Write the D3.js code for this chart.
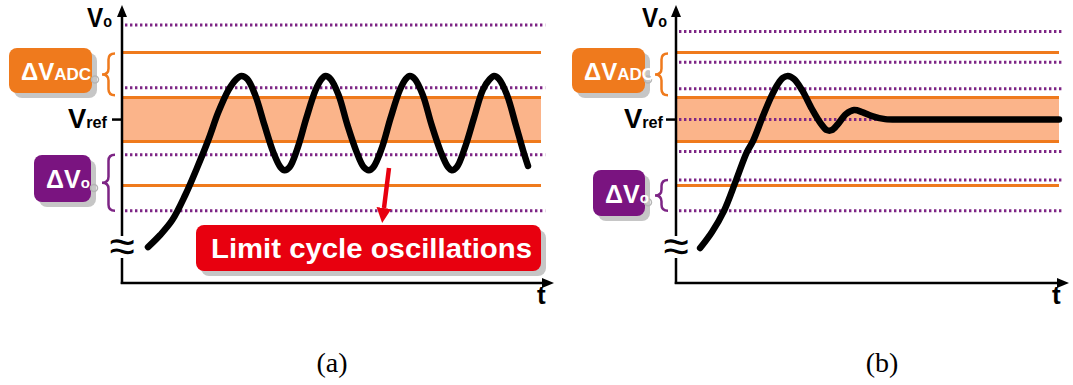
<!DOCTYPE html>
<html>
<head>
<meta charset="utf-8">
<script src="https://cdn.jsdelivr.net/npm/d3@7"></script>
<style>
  html, body { margin: 0; padding: 0; background: #fff; }
  svg { display: block; }
  text { font-family: "Liberation Sans", Arial, sans-serif; }
  text.caption { font-family: "Liberation Serif", "Times New Roman", serif; }
</style>
</head>
<body>
<div id="chart"></div>
<script>
const WIDTH = 1073;
const HEIGHT = 385;

// voltage in units of half an ADC bin, Vref = 0
const adcEdges = [3.05, 1, -1, -3];
const adcZeroBin = [-1, 1];
// DPWM output levels (coarse in a, fine in b)
const dpwmLevelsA = [4.3, 1.45, -1.6, -4.15];
const dpwmLevelsB = [4.0, 2.6, 1.4, 0, -1.45, -2.75, -4.15];

// output voltage [t (% of span), v]
const outputA = [
  [6.2, -5.8], [9.1, -5.25], [12.0, -4.57], [15.1, -3.43], [17.9, -2.2], [20.6, -0.93],
  [23.0, 0.34], [25.4, 1.34], [27.3, 1.84], [28.5, 1.98], [29.9, 1.84], [31.8, 1.11],
  [34.0, -0.25], [36.1, -1.48], [37.8, -2.16], [38.8, -2.3], [40.0, -2.16], [41.9, -1.3],
  [44.0, 0.07], [46.2, 1.34], [47.6, 1.84], [48.6, 1.98], [49.8, 1.84], [51.7, 1.11],
  [53.8, -0.25], [56.0, -1.48], [57.7, -2.16], [58.9, -2.3], [60.0, -2.16], [62.0, -1.3],
  [64.1, 0.07], [66.3, 1.34], [67.7, 1.84], [68.7, 1.98], [69.9, 1.84], [71.8, 1.11],
  [73.9, -0.25], [76.1, -1.48], [77.8, -2.16], [78.7, -2.3], [79.9, -2.16], [81.8, -1.3],
  [84.0, 0.07], [86.1, 1.34], [87.8, 1.84], [88.8, 1.98], [90.0, 1.84], [91.9, 1.11],
  [94.0, -0.25], [95.7, -1.39], [96.9, -2.11]
];
const outputB = [
  [6.3, -5.84], [9.4, -5.11], [12.5, -4.16], [15.7, -2.75], [18.5, -1.48], [20.1, -0.98],
  [22.5, 0.07], [24.8, 1.02], [26.6, 1.61], [27.9, 1.89], [29.2, 1.98], [30.8, 1.84],
  [32.9, 1.34], [35.5, 0.48], [37.9, -0.2], [39.4, -0.48], [40.7, -0.48], [42.3, -0.2],
  [44.4, 0.25], [46.5, 0.43], [48.6, 0.34], [51.2, 0.16], [54.6, 0.02], [59.8, 0],
  [74.2, 0], [100, 0]
];

const panelLabels = ['(a)', '(b)'];
const noteText = 'Limit cycle oscillations';

const ORANGE = '#ef7a1d';
const BAND = '#fbb48a';
const PURPLE = '#7d2585';
const BOX_PURPLE = '#7a1480';
const RED = '#e8000f';

const panels = [
  {
    x0: 122, x1: 541, axisEnd: 554, dotEnd: 101, dpwm: dpwmLevelsA, data: outputA,
    adcBox: { x: 9, y: 48, w: 83, h: 45 }, voBox: { x: 34, y: 155, w: 57, h: 47 },
    braceX: 102, voBrace: [-1.6, -4.15], voLabelX: 87, vrefX: 68, captionX: 332,
    note: { x: 196, y: 225, w: 345, h: 46, from: [389, 168], to: [384, 208] }
  },
  {
    x0: 676, x1: 1059, axisEnd: 1069, dotEnd: 100.8, dpwm: dpwmLevelsB, data: outputB,
    adcBox: { x: 572, y: 48, w: 73, h: 45 }, voBox: { x: 593, y: 170, w: 52, h: 46 },
    braceX: 655, voBrace: [-2.75, -4.15], voLabelX: 642, vrefX: 624, captionX: 882
  }
];

const svg = d3.select('#chart').append('svg')
  .attr('width', WIDTH)
  .attr('height', HEIGHT)
  .attr('viewBox', `0 0 ${WIDTH} ${HEIGHT}`);

svg.append('rect').attr('width', WIDTH).attr('height', HEIGHT).attr('fill', '#fff');

const defs = svg.append('defs');
const addMarker = (id, color, len, wid) => {
  defs.append('marker')
    .attr('id', id)
    .attr('markerUnits', 'userSpaceOnUse')
    .attr('markerWidth', len).attr('markerHeight', wid)
    .attr('viewBox', `0 0 ${len} ${wid}`)
    .attr('refX', 0).attr('refY', wid / 2)
    .attr('orient', 'auto')
    .append('path')
    .attr('d', `M0,0 L${len},${wid / 2} L0,${wid} Z`)
    .attr('fill', color);
};
addMarker('arrowBlack', '#000', 12, 10);
addMarker('arrowRed', RED, 15, 15);

const y = d3.scaleLinear().domain([-7.43, 4.89]).range([283, 12]);

const brace = (x, y1, y2, w) => {
  const m = (y1 + y2) / 2, xm = x + w * 0.5, r = Math.min(6, (y2 - y1) / 4);
  return `M${x + w},${y1} Q${xm},${y1} ${xm},${y1 + r} L${xm},${m - r} Q${xm},${m} ${x},${m}` +
    ` Q${xm},${m} ${xm},${m + r} L${xm},${y2 - r} Q${xm},${y2} ${x + w},${y2}`;
};

const labelBox = (g, b, color, main, sub, mainSize, subSize) => {
  g.append('rect').attr('x', b.x + 5).attr('y', b.y + 5).attr('width', b.w).attr('height', b.h)
    .attr('rx', 8).attr('fill', '#c6c6c6');
  g.append('rect').attr('x', b.x).attr('y', b.y).attr('width', b.w).attr('height', b.h)
    .attr('rx', 8).attr('fill', color);
  g.append('circle').attr('cx', b.x + b.w + 3).attr('cy', b.y + b.h * 0.7).attr('r', 3.5)
    .attr('fill', 'none').attr('stroke', '#b5b5b5').attr('stroke-width', 1.5);
  const t = g.append('text')
    .attr('x', b.x + 12)
    .attr('y', b.y + b.h / 2 + mainSize * 0.38)
    .attr('fill', '#fff').attr('font-weight', 'bold').attr('font-size', mainSize);
  t.append('tspan').text(main);
  t.append('tspan').attr('font-size', subSize).text(sub);
};

const vLabel = (g, x, yBase, sub, len) => {
  const t = g.append('text')
    .attr('x', x).attr('y', yBase)
    .attr('font-size', 27).attr('font-weight', 'bold').attr('fill', '#000')
    .attr('textLength', len).attr('lengthAdjust', 'spacingAndGlyphs');
  t.append('tspan').text('V');
  t.append('tspan').attr('font-size', 16).text(sub);
};

panels.forEach((p, i) => {
  const x = d3.scaleLinear().domain([0, 100]).range([p.x0, p.x1]);
  const g = svg.append('g');

  // ADC zero-error bin
  g.append('rect')
    .attr('x', x(0)).attr('width', x(100) - x(0))
    .attr('y', y(adcZeroBin[1])).attr('height', y(adcZeroBin[0]) - y(adcZeroBin[1]))
    .attr('fill', BAND);

  g.selectAll('line.adc').data(adcEdges).join('line')
    .attr('class', 'adc')
    .attr('x1', x(0)).attr('x2', x(100))
    .attr('y1', d => y(d)).attr('y2', d => y(d))
    .attr('stroke', ORANGE).attr('stroke-width', 3);

  g.selectAll('line.dpwm').data(p.dpwm).join('line')
    .attr('class', 'dpwm')
    .attr('x1', x(0) + 3).attr('x2', x(p.dotEnd))
    .attr('y1', d => y(d)).attr('y2', d => y(d))
    .attr('stroke', PURPLE).attr('stroke-width', 3)
    .attr('stroke-dasharray', '2.4,2.6');

  g.append('path')
    .datum(p.data)
    .attr('d', d3.line().x(d => x(d[0])).y(d => y(d[1])).curve(d3.curveCatmullRom.alpha(0.5)))
    .attr('fill', 'none').attr('stroke', '#000').attr('stroke-width', 6.5)
    .attr('stroke-linecap', 'round').attr('stroke-linejoin', 'round');

  // axes
  g.append('line')
    .attr('x1', p.x0).attr('x2', p.x0).attr('y1', 284).attr('y2', 17)
    .attr('stroke', '#000').attr('stroke-width', 2.5).attr('marker-end', 'url(#arrowBlack)');
  g.append('line')
    .attr('x1', p.x0 - 1.25).attr('x2', p.axisEnd - 12).attr('y1', 283).attr('y2', 283)
    .attr('stroke', '#000').attr('stroke-width', 2.5).attr('marker-end', 'url(#arrowBlack)');

  // axis break
  g.append('rect').attr('x', p.x0 - 5).attr('y', 236).attr('width', 10).attr('height', 22).attr('fill', '#fff');
  g.append('text')
    .attr('x', p.x0).attr('y', 262)
    .attr('text-anchor', 'middle').attr('font-size', 46).attr('fill', '#000')
    .text('\u2248');

  // Vref tick and labels
  g.append('line')
    .attr('x1', p.x0 - 10).attr('x2', p.x0).attr('y1', y(0)).attr('y2', y(0))
    .attr('stroke', '#000').attr('stroke-width', 2.5);
  vLabel(g, p.voLabelX, 27, 'o', 25);
  vLabel(g, p.vrefX, 128, 'ref', 39);

  g.append('text')
    .attr('x', p.axisEnd - 17).attr('y', 304)
    .attr('font-size', 26).attr('font-weight', 'bold').attr('fill', '#000')
    .text('t');

  // boxes and braces
  labelBox(g, p.adcBox, ORANGE, '\u0394V', 'ADC', 24, 17);
  labelBox(g, p.voBox, BOX_PURPLE, '\u0394V', 'o', 25, 15);

  g.append('path')
    .attr('d', brace(p.braceX, y(3.0), y(1.1), 13))
    .attr('fill', 'none').attr('stroke', ORANGE).attr('stroke-width', 2.5);
  g.append('path')
    .attr('d', brace(p.braceX, y(p.voBrace[0]), y(p.voBrace[1]), 13))
    .attr('fill', 'none').attr('stroke', PURPLE).attr('stroke-width', 2.5);

  if (p.note) {
    const n = p.note;
    g.append('line')
      .attr('x1', n.from[0]).attr('y1', n.from[1]).attr('x2', n.to[0]).attr('y2', n.to[1])
      .attr('stroke', RED).attr('stroke-width', 4.5).attr('marker-end', 'url(#arrowRed)');
    g.append('rect').attr('x', n.x + 5).attr('y', n.y + 5).attr('width', n.w).attr('height', n.h)
      .attr('rx', 8).attr('fill', '#c6c6c6');
    g.append('rect').attr('x', n.x).attr('y', n.y).attr('width', n.w).attr('height', n.h)
      .attr('rx', 8).attr('fill', RED);
    g.append('text')
      .attr('x', n.x + 15).attr('y', n.y + 33)
      .attr('font-size', 28).attr('font-weight', 'bold').attr('fill', '#fff')
      .attr('textLength', n.w - 24).attr('lengthAdjust', 'spacingAndGlyphs')
      .text(noteText);
  }

  svg.append('text')
    .attr('class', 'caption')
    .attr('x', p.captionX).attr('y', 372)
    .attr('text-anchor', 'middle')
    .attr('font-size', 28).attr('fill', '#000')
    .text(panelLabels[i]);
});
</script>
</body>
</html>
